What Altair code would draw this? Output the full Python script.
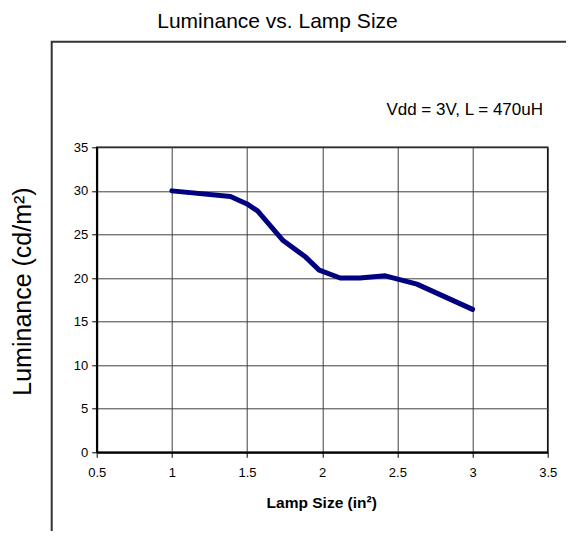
import altair as alt
import pandas as pd

# Data
lamp_size = [1.0, 1.39, 1.50, 1.57, 1.74, 1.89, 1.98, 2.12, 2.25, 2.42, 2.63, 3.0]
luminance = [30.0, 29.35, 28.5, 27.7, 24.3, 22.4, 20.9, 20.0, 20.0, 20.25, 19.3, 16.4]

x_ticks = [0.5, 1, 1.5, 2, 2.5, 3, 3.5]
y_ticks = [0, 5, 10, 15, 20, 25, 30, 35]

title_text = "Luminance vs. Lamp Size"
note_text = "Vdd = 3V, L = 470uH"
x_title = "Lamp Size (in²)"
y_title = "Luminance (cd/m²)"

FONT = "Liberation Sans, Arial"
W, H = 451, 305

df = pd.DataFrame({"size": lamp_size, "lum": luminance})

line = alt.Chart(df).mark_line(color="#000080", strokeWidth=5, strokeJoin="round", strokeCap="round").encode(
    x=alt.X("size:Q", scale=alt.Scale(domain=[0.5, 3.5], nice=False),
            axis=alt.Axis(values=x_ticks, title=None, grid=True, gridColor="#404040", gridWidth=1,
                          domainColor="black", domainWidth=2, tickColor="black", tickSize=5,
                          format="~g",
                          labelFont=FONT, labelFontSize=13, labelColor="black", labelPadding=9,
                          labelFlush=False)),
    y=alt.Y("lum:Q", scale=alt.Scale(domain=[0, 35], nice=False),
            axis=alt.Axis(values=y_ticks, title=None, grid=True, gridColor="#404040", gridWidth=1,
                          domainColor="black", domainWidth=2, tickColor="black", tickSize=5,
                          format="~g",
                          labelFont=FONT, labelFontSize=13, labelColor="black", labelPadding=4,
                          labelFlush=False)),
)

frame = alt.Chart(pd.DataFrame({"a": [0]})).mark_rect(fill=None, stroke="#333333", strokeWidth=2).encode(
    x=alt.value(-45), x2=alt.value(800), y=alt.value(-105.6), y2=alt.value(800)
)

def label(text, x, y, size, bold=False, align="center", angle=0, baseline="middle"):
    return alt.Chart(pd.DataFrame({"t": [text]})).mark_text(
        font=FONT, fontSize=size, fontWeight="bold" if bold else "normal",
        align=align, baseline=baseline, angle=angle, color="black"
    ).encode(x=alt.value(x), y=alt.value(y), text="t:N")

t_title = label(title_text, 180.8, -119.8, 21, baseline="alphabetic")
t_note = label(note_text, 446.3, -37.3, 17, align="right")
t_x = label(x_title, 225, 355.4, 15.5, bold=True)
t_y = label(y_title, -74, 144.2, 25, angle=270)

chart = alt.layer(frame, line, t_title, t_note, t_x, t_y).properties(
    width=W, height=H,
    autosize=alt.AutoSizeParams(type="none"),
    padding={"left": 88.7, "top": 139.3, "right": 18.3, "bottom": 78.7},
    background="white",
).configure_view(stroke="black", strokeWidth=1.5)

chart.save("out.html", embed_options={"renderer": "svg", "actions": False})
